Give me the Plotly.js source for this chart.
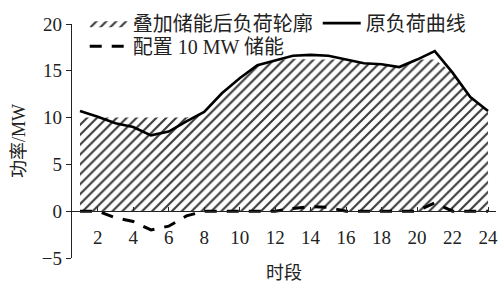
<!DOCTYPE html>
<html>
<head>
<meta charset="utf-8">
<script src="https://cdn.plot.ly/plotly-3.0.1.min.js"></script>
<style>html,body{margin:0;padding:0;background:#fff;}#chart{width:498px;height:284px;}</style>
</head>
<body>
<div id="chart"></div>
<script>
// Data
const hours = [1,2,3,4,5,6,7,8,9,10,11,12,13,14,15,16,17,18,19,20,21,22,23,24];
const originalLoad = [10.7,10.1,9.4,9.0,8.1,8.5,9.6,10.6,12.6,14.2,15.6,16.1,16.6,16.7,16.6,16.2,15.8,15.7,15.4,16.2,17.1,14.8,12.2,10.7];
const storagePower = [0,0,-0.7,-1.1,-2.0,-1.6,-0.5,0,0,0,0,0,0.3,0.5,0.4,0,0,0,0,0,0.9,0,0,0];
const combinedLoad = [10,10,10,10,10,10,10,10.6,12.6,14.2,15.6,16.1,16.3,16.2,16.2,16.2,15.8,15.7,15.4,16.2,16.2,14.8,12.2,10.7];
const xTicks = [2,4,6,8,10,12,14,16,18,20,22,24];
const yTicks = [-5,0,5,10,15,20];
const nameCombined = '叠加储能后负荷轮廓';
const nameOriginal = '原负荷曲线';
const nameStorage = '配置 10 MW 储能';
const xTitle = '时段';
const yTitle = '功率/MW';

const cjk = '"Liberation Serif", "Noto Sans CJK SC", serif';

const traces = [
  {
    x: hours, y: combinedLoad, type: 'scatter', mode: 'lines',
    name: nameCombined, fill: 'tozeroy',
    line: {width: 0, color: '#333'},
    fillcolor: 'white',
    fillpattern: {shape: '/', size: 7, solidity: 0.3, fgcolor: '#3a3a3a', bgcolor: 'white', fillmode: 'replace'},
    legend: 'legend'
  },
  {
    x: hours, y: originalLoad, type: 'scatter', mode: 'lines',
    name: nameOriginal, line: {width: 2.6, color: '#000'},
    legend: 'legend'
  },
  {
    x: hours, y: storagePower, type: 'scatter', mode: 'lines',
    name: nameStorage, line: {width: 3, color: '#000', dash: '12px,10px'},
    legend: 'legend2'
  }
];

const layout = {
  width: 498, height: 284,
  margin: {l: 72, r: 2, t: 24, b: 26},
  paper_bgcolor: 'white', plot_bgcolor: 'rgba(0,0,0,0)',
  font: {family: cjk, size: 19, color: '#222'},
  showlegend: true,
  legend: {
    orientation: 'h', x: 0.03, xanchor: 'left', y: 1.087, yanchor: 'top',
    bgcolor: 'rgba(0,0,0,0)', font: {family: cjk, size: 20, color: '#222'},
    itemwidth: 38, tracegroupgap: 0
  },
  legend2: {
    orientation: 'h', x: 0.03, xanchor: 'left', y: 0.988, yanchor: 'top',
    bgcolor: 'rgba(0,0,0,0)', font: {family: cjk, size: 20, color: '#222'},
    itemwidth: 38
  },
  xaxis: {
    range: [0.55, 24.45], anchor: 'free', position: 0.2,
    showline: true, linecolor: '#222', linewidth: 1.2,
    ticks: 'inside', ticklen: 4, tickcolor: '#222', tickwidth: 1,
    tickvals: xTicks, ticktext: xTicks.map(String),
    ticklabelstandoff: 9, ticklabeloverflow: 'allow',
    showgrid: false, zeroline: false,
    tickfont: {family: '"Liberation Serif", serif', size: 19, color: '#222'}
  },
  yaxis: {
    range: [-5, 20],
    showline: true, linecolor: '#222', linewidth: 1.2,
    ticks: 'outside', ticklen: 5, tickcolor: '#222', tickwidth: 1,
    tickvals: yTicks, ticktext: yTicks.map(v => v < 0 ? '\u2212' + Math.abs(v) : String(v)),
    showgrid: false, zeroline: false,
    tickfont: {family: '"Liberation Serif", serif', size: 19, color: '#222'}
  },
  annotations: [
    {text: xTitle, xref: 'paper', yref: 'paper', x: 0.5, y: -0.063, xanchor: 'center', yanchor: 'middle',
     showarrow: false, font: {family: cjk, size: 18, color: '#222'}},
    {text: yTitle, xref: 'paper', yref: 'paper', x: -0.125, y: 0.5, xanchor: 'center', yanchor: 'middle',
     textangle: -90, showarrow: false, font: {family: cjk, size: 18, color: '#222'}}
  ]
};

Plotly.newPlot('chart', traces, layout, {staticPlot: true, displayModeBar: false});
</script>
</body>
</html>
